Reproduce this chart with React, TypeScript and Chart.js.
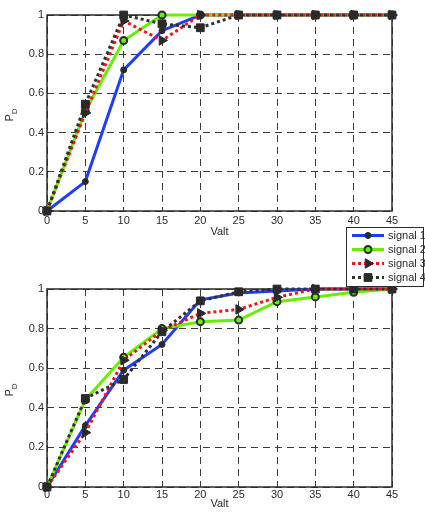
import React, { useEffect, useRef } from "react";
import { Chart, registerables } from "chart.js";

Chart.register(...registerables);

const valt = [0, 5, 10, 15, 20, 25, 30, 35, 40, 45];
const seriesNames = ["signal 1", "signal 2", "signal 3", "signal 4"];

const topSignal1 = [0, 0.15, 0.72, 0.92, 1.0, 1, 1, 1, 1, 1];
const topSignal2 = [0, 0.51, 0.87, 1.0, 1.0, 1, 1, 1, 1, 1];
const topSignal3 = [0, 0.5, 0.97, 0.87, 1.0, 1, 1, 1, 1, 1];
const topSignal4 = [0, 0.545, 1.0, 0.955, 0.935, 1, 1, 1, 1, 1];

const botSignal1 = [0, 0.31, 0.59, 0.72, 0.945, 0.98, 0.99, 1.0, 1, 1];
const botSignal2 = [0, 0.44, 0.655, 0.8, 0.835, 0.843, 0.936, 0.96, 0.983, 1.0];
const botSignal3 = [0, 0.275, 0.64, 0.79, 0.877, 0.897, 0.958, 1.0, 1, 1];
const botSignal4 = [0, 0.447, 0.543, 0.784, 0.94, 0.986, 1.0, 1, 1, 1];

const yTicks = [0, 0.2, 0.4, 0.6, 0.8, 1];
const yTickLabels = ["0", "0.2", "0.4", "0.6", "0.8", "1"];

const FONT = "'Liberation Sans', Arial, Helvetica, sans-serif";
const TXT = "#2a2a2a";
const GRID = "#3a3a3a";

const styles = [
  { color: "#1f3cff", dash: [] as number[], point: "circle", radius: 3, bg: "#2a2a2a", bw: 1, rot: 0 },
  { color: "#66f000", dash: [] as number[], point: "circle", radius: 3.5, bg: "#66f000", bw: 2, rot: 0 },
  { color: "#ff1010", dash: [3, 3], point: "triangle", radius: 5.5, bg: "#2a2a2a", bw: 1, rot: 90 },
  { color: "#303030", dash: [3, 3], point: "rect", radius: 5.5, bg: "#2a2a2a", bw: 1, rot: 0 },
];

function makeDatasets(series: number[][]) {
  return series.map((vals, i) => {
    const s = styles[i];
    return {
      label: seriesNames[i],
      data: valt.map((x, k) => ({ x, y: vals[k] })),
      borderColor: s.color,
      borderWidth: 3,
      borderDash: s.dash,
      pointStyle: s.point,
      pointRadius: s.radius,
      pointRotation: s.rot,
      pointBackgroundColor: s.bg,
      pointBorderColor: "#2a2a2a",
      pointBorderWidth: s.bw,
      tension: 0,
      fill: false,
      order: 3 - i,
      clip: false as any,
    };
  });
}

const boxPlugin = {
  id: "boxPlugin",
  beforeDatasetsDraw(chart: any) {
    const { ctx, chartArea: a } = chart;
    ctx.save();
    ctx.strokeStyle = "#2a2a2a";
    ctx.lineWidth = 1.5;
    ctx.setLineDash([]);
    ctx.strokeRect(a.left, a.top, a.right - a.left, a.bottom - a.top);
    ctx.restore();
  },
  afterDraw(chart: any) {
    const { ctx, chartArea: a } = chart;
    const cy = (a.top + a.bottom) / 2 + 2;
    ctx.save();
    ctx.translate(13, cy);
    ctx.rotate(-Math.PI / 2);
    ctx.fillStyle = TXT;
    ctx.textBaseline = "alphabetic";
    ctx.font = `11px ${FONT}`;
    const pw = ctx.measureText("P").width;
    ctx.font = `8px ${FONT}`;
    const dw = ctx.measureText("D").width;
    const total = pw + dw;
    ctx.font = `11px ${FONT}`;
    ctx.fillText("P", -total / 2, 0);
    ctx.font = `8px ${FONT}`;
    ctx.fillText("D", -total / 2 + pw, 4);
    ctx.restore();
  },
};

function drawMarker(ctx: CanvasRenderingContext2D, style: string, r: number, rot: number, x: number, y: number) {
  ctx.beginPath();
  if (style === "circle") {
    ctx.arc(x, y, r, 0, Math.PI * 2);
  } else if (style === "rect") {
    const s = r * Math.SQRT1_2;
    ctx.rect(x - s, y - s, 2 * s, 2 * s);
  } else if (style === "triangle") {
    const a = (rot * Math.PI) / 180;
    for (let k = 0; k < 3; k++) {
      const ang = a - Math.PI / 2 + (k * 2 * Math.PI) / 3;
      const px = x + Math.cos(ang) * r;
      const py = y + Math.sin(ang) * r;
      if (k === 0) ctx.moveTo(px, py);
      else ctx.lineTo(px, py);
    }
    ctx.closePath();
  }
  ctx.fill();
  ctx.stroke();
}

const legendPlugin = {
  id: "customLegend",
  afterDraw(chart: any) {
    const { ctx } = chart;
    const x0 = 346, y0 = 5, w = 78, h = 60;
    ctx.save();
    ctx.fillStyle = "#ffffff";
    ctx.fillRect(x0, y0, w, h);
    ctx.strokeStyle = "#2a2a2a";
    ctx.lineWidth = 1;
    ctx.strokeRect(x0 + 0.5, y0 + 0.5, w - 1, h - 1);
    chart.data.datasets.forEach((ds: any, i: number) => {
      const cy = y0 + 8.5 + i * 14;
      ctx.save();
      ctx.strokeStyle = ds.borderColor;
      ctx.lineWidth = 3;
      ctx.setLineDash(ds.borderDash || []);
      ctx.beginPath();
      ctx.moveTo(352, cy);
      ctx.lineTo(384, cy);
      ctx.stroke();
      ctx.restore();
      ctx.save();
      ctx.fillStyle = ds.pointBackgroundColor;
      ctx.strokeStyle = ds.pointBorderColor;
      ctx.lineWidth = ds.pointBorderWidth;
      drawMarker(ctx, ds.pointStyle, ds.pointRadius, ds.pointRotation, 368, cy);
      ctx.restore();
      ctx.fillStyle = TXT;
      ctx.font = `11px ${FONT}`;
      ctx.textBaseline = "middle";
      ctx.fillText(ds.label, 388, cy + 0.5);
    });
    ctx.restore();
  },
};

function makeOptions(padTop: number, xHeight: number, tickPad: number) {
  return {
    animation: false as const,
    responsive: false,
    maintainAspectRatio: false,
    layout: { padding: { top: padTop, right: 33, left: 0, bottom: 0 } },
    plugins: { legend: { display: false }, tooltip: { enabled: false } },
    scales: {
      x: {
        type: "linear" as const,
        min: 0,
        max: 45,
        ticks: { stepSize: 5, color: TXT, font: { family: FONT, size: 11 }, padding: tickPad, maxRotation: 0 },
        grid: { color: GRID, lineWidth: 1, drawTicks: false },
        border: { display: false, dash: [7, 5] },
        title: { display: true, text: "Valt", color: TXT, font: { family: FONT, size: 11 }, padding: { top: 0, bottom: 1 } },
        afterFit: (s: any) => { s.height = xHeight; },
      },
      y: {
        type: "linear" as const,
        min: 0,
        max: 1,
        afterBuildTicks: (s: any) => { s.ticks = yTicks.map((v) => ({ value: v })); },
        ticks: {
          color: TXT,
          font: { family: FONT, size: 11 },
          padding: 3,
          callback: (v: number) => {
            const idx = yTicks.findIndex((t) => Math.abs(t - v) < 1e-9);
            return idx >= 0 ? yTickLabels[idx] : "";
          },
        },
        grid: { color: GRID, lineWidth: 1, drawTicks: false },
        border: { display: false, dash: [7, 5] },
        afterFit: (s: any) => { s.width = 47; },
      },
    },
  };
}

function PlotCanvas(props: { series: number[][]; top: number; height: number; padTop: number; xHeight: number; tickPad: number; legend: boolean }) {
  const ref = useRef<HTMLCanvasElement>(null);
  useEffect(() => {
    if (!ref.current) return;
    const chart = new Chart(ref.current, {
      type: "line",
      data: { datasets: makeDatasets(props.series) as any },
      options: makeOptions(props.padTop, props.xHeight, props.tickPad) as any,
      plugins: props.legend ? [boxPlugin, legendPlugin] : [boxPlugin],
    });
    return () => chart.destroy();
  }, []);
  return (
    <canvas
      ref={ref}
      width={425}
      height={props.height}
      style={{ position: "absolute", left: 0, top: props.top, width: 425, height: props.height }}
    />
  );
}

export default function App() {
  return (
    <div style={{ position: "absolute", left: 0, top: 0, width: 425, height: 512, background: "#fff" }}>
      <PlotCanvas series={[topSignal1, topSignal2, topSignal3, topSignal4]} top={0} height={240} padTop={15} xHeight={29} tickPad={3} legend={false} />
      <PlotCanvas series={[botSignal1, botSignal2, botSignal3, botSignal4]} top={222} height={290} padTop={67} xHeight={25} tickPad={1} legend={true} />
    </div>
  );
}
